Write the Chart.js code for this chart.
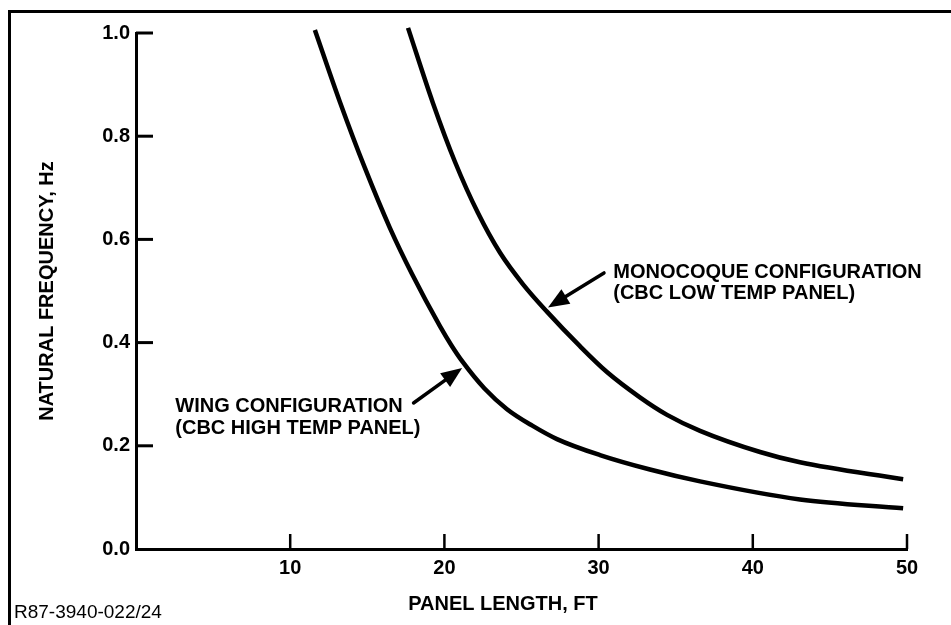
<!DOCTYPE html>
<html><head><meta charset="utf-8">
<script src="https://cdn.jsdelivr.net/npm/chart.js@4/dist/chart.umd.min.js"></script>
<style>html,body{margin:0;padding:0;background:#fff;}canvas{display:block;}</style>
</head><body>
<canvas id="c" width="951" height="625"></canvas>
<script>
// ---- data ----
const wingLength = [11.6, 13.23, 14.85, 16.47, 17.9, 19.71, 20.45, 21.2, 22.6, 24.06, 25.7, 27.3, 30.09, 33.33, 36.58, 43.06, 49.75];
const wingFreq   = [1.006, 0.866, 0.738, 0.622, 0.533, 0.432, 0.395, 0.362, 0.311, 0.271, 0.239, 0.213, 0.182, 0.154, 0.131, 0.096, 0.079];
const monoLength = [17.64, 19.26, 20.69, 22.18, 23.61, 25.1, 26.65, 28.79, 30.54, 32.68, 34.44, 36.58, 40.47, 43.06, 49.75];
const monoFreq   = [1.010, 0.864, 0.750, 0.651, 0.574, 0.513, 0.460, 0.393, 0.343, 0.294, 0.260, 0.229, 0.188, 0.168, 0.135];
const xTickValues = [10, 20, 30, 40, 50];
const yTickValues = [0.0, 0.2, 0.4, 0.6, 0.8, 1.0];
const xTitle = 'PANEL LENGTH, FT';
const yTitle = 'NATURAL FREQUENCY, Hz';
const wingLabel = ['WING CONFIGURATION', '(CBC HIGH TEMP PANEL)'];
const monoLabel = ['MONOCOQUE CONFIGURATION', '(CBC LOW TEMP PANEL)'];
const figureId = 'R87-3940-022/24';

const FONT = '"Liberation Sans", Arial, Helvetica, sans-serif';
Chart.defaults.font.family = FONT;
Chart.defaults.color = '#000';

function arrow(ctx, x1, y1, x2, y2) {
  const ang = Math.atan2(y2 - y1, x2 - x1);
  const hl = 21, hw = 8.5;
  const bx = x2 - hl * Math.cos(ang), by = y2 - hl * Math.sin(ang);
  ctx.beginPath();
  ctx.moveTo(x1, y1); ctx.lineTo(bx + 4 * Math.cos(ang), by + 4 * Math.sin(ang));
  ctx.lineWidth = 3.5; ctx.strokeStyle = '#000'; ctx.lineCap = 'round'; ctx.stroke();
  ctx.beginPath();
  ctx.moveTo(x2, y2);
  ctx.lineTo(bx + hw * Math.sin(ang), by - hw * Math.cos(ang));
  ctx.lineTo(bx - hw * Math.sin(ang), by + hw * Math.cos(ang));
  ctx.closePath(); ctx.fillStyle = '#000'; ctx.fill();
}

const decor = {
  id: 'decor',
  afterDraw(chart) {
    const ctx = chart.ctx, xs = chart.scales.x, ys = chart.scales.y, a = chart.chartArea;
    const X = v => xs.getPixelForValue(v), Y = v => ys.getPixelForValue(v);
    ctx.save();
    // frame
    ctx.strokeStyle = '#000'; ctx.lineWidth = 3; ctx.lineCap = 'butt';
    ctx.beginPath(); ctx.moveTo(9.5, 625); ctx.lineTo(9.5, 11.5); ctx.lineTo(951, 11.5); ctx.stroke();
    // inward tick marks
    ctx.lineWidth = 3;
    yTickValues.forEach(v => { if (v === 0) return; ctx.beginPath(); ctx.moveTo(a.left, Y(v)); ctx.lineTo(a.left + 17, Y(v)); ctx.stroke(); });
    ctx.lineWidth = 2.5;
    xTickValues.forEach(v => { ctx.beginPath(); ctx.moveTo(X(v), a.bottom); ctx.lineTo(X(v), a.bottom - 15); ctx.stroke(); });
    // arrows
    arrow(ctx, X(30.35), Y(0.535), X(26.72), Y(0.468));
    arrow(ctx, X(18.0), Y(0.283), X(21.15), Y(0.351));
    // annotation texts
    ctx.fillStyle = '#000'; ctx.textAlign = 'left'; ctx.textBaseline = 'middle';
    ctx.font = 'bold 20px ' + FONT;
    ctx.fillText(monoLabel[0], X(30.95), Y(0.535));
    ctx.fillText(monoLabel[1], X(30.95), Y(0.496));
    ctx.fillText(wingLabel[0], X(2.55), Y(0.277));
    ctx.fillText(wingLabel[1], X(2.55), Y(0.2345));
    // x axis title
    ctx.textAlign = 'center';
    ctx.fillText(xTitle, X(23.8), 604);
    // figure id
    ctx.textAlign = 'left'; ctx.font = '19px ' + FONT;
    ctx.fillText(figureId, 14, 613);
    ctx.restore();
  }
};

const lineStyle = { borderColor: '#000', borderWidth: 4.5, pointRadius: 0, fill: false, cubicInterpolationMode: 'monotone', clip: false, borderCapStyle: 'butt' };

new Chart(document.getElementById('c'), {
  type: 'line',
  data: {
    datasets: [
      Object.assign({ label: 'Wing configuration', data: wingLength.map((x, i) => ({ x, y: wingFreq[i] })) }, lineStyle),
      Object.assign({ label: 'Monocoque configuration', data: monoLength.map((x, i) => ({ x, y: monoFreq[i] })) }, lineStyle)
    ]
  },
  options: {
    responsive: false, animation: false, events: [], devicePixelRatio: 1,
    layout: { padding: { left: 0, top: 33, right: 44, bottom: 0 } },
    plugins: { legend: { display: false }, tooltip: { enabled: false } },
    scales: {
      x: {
        type: 'linear', min: 0, max: 50,
        afterFit(s) { s.height = 76; },
        afterBuildTicks(s) { s.ticks = xTickValues.map(v => ({ value: v })); },
        grid: { display: false, drawTicks: false },
        border: { display: true, color: '#000', width: 3 },
        ticks: { padding: 7, maxRotation: 0, autoSkip: false, color: '#000', font: { size: 20, weight: 'bold' } }
      },
      y: {
        type: 'linear', min: 0, max: 1,
        afterFit(s) { s.width = 136; },
        afterBuildTicks(s) { s.ticks = yTickValues.map(v => ({ value: v })); },
        grid: { display: false, drawTicks: false },
        border: { display: true, color: '#000', width: 3 },
        ticks: { padding: 6, color: '#000', font: { size: 20, weight: 'bold' }, callback: v => Number(v).toFixed(1) },
        title: { display: true, text: yTitle, color: '#000', font: { size: 20, weight: 'bold' }, padding: { top: 35, bottom: 0 } }
      }
    }
  },
  plugins: [decor]
});
</script>
</body></html>
